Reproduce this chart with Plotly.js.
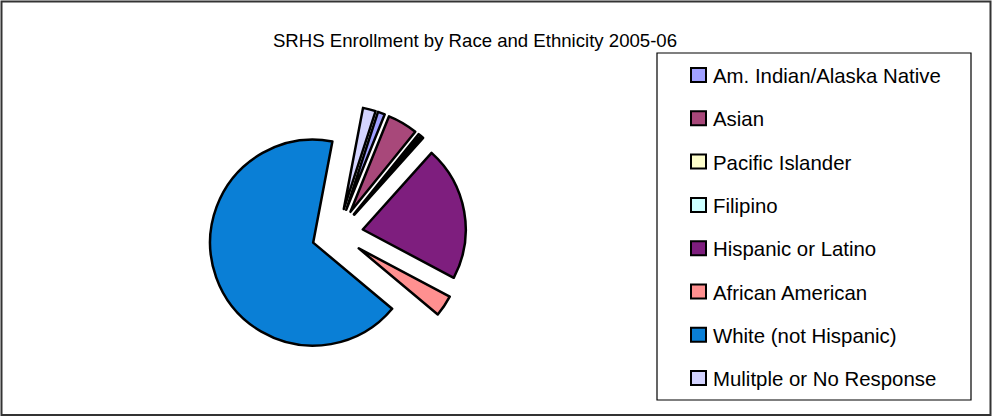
<!DOCTYPE html>
<html>
<head>
<meta charset="utf-8">
<script src="https://cdn.plot.ly/plotly-3.0.1.min.js"></script>
<style>html,body{margin:0;padding:0;background:#fff;}#chart{width:995px;height:417px;}</style>
</head>
<body>
<div id="chart"></div>
<script>
// Data
var categories = ["Am. Indian/Alaska Native", "Asian", "Pacific Islander", "Filipino",
                  "Hispanic or Latino", "African American", "White (not Hispanic)", "Mulitple or No Response"];
var percentages = [1.1, 4.7, 0.4, 0.4, 21.0, 3.3, 66.5, 2.0];
var sliceColors = ["#A0A0FF", "#A8487A", "#FFFFCC", "#CCFFFF", "#7E1E7E", "#FF9090", "#0A7FD6", "#D4D4FF"];
var chartTitle = "SRHS Enrollment by Race and Ethnicity 2005-06";

var W = 995, H = 417;
function px(x) { return x / W; }
function py(y) { return 1 - y / H; }

var trace = {
  type: "pie",
  labels: categories,
  values: percentages,
  sort: false,
  direction: "clockwise",
  rotation: 18,
  pull: categories.map(function () { return 0.25; }),
  marker: { colors: sliceColors, line: { color: "#000000", width: 2.5 } },
  textinfo: "none",
  hoverinfo: "label+percent",
  automargin: false,
  domain: { x: [px(208.65), px(466.15)], y: [py(362.75), py(105.25)] }
};

// Custom legend built from categories/colours
var shapes = [];
var annotations = [];
// outer chart border
shapes.push({ type: "rect", xref: "paper", yref: "paper",
  x0: px(1.5), x1: px(990.5), y0: py(415), y1: py(1.5),
  line: { color: "#333333", width: 2 }, fillcolor: "rgba(0,0,0,0)" });
// legend box
shapes.push({ type: "rect", xref: "paper", yref: "paper",
  x0: px(657), x1: px(971), y0: py(400), y1: py(53),
  line: { color: "#000000", width: 1.2 }, fillcolor: "#ffffff" });

var legTop = 75, legStep = 43.3;
categories.forEach(function (c, i) {
  var yc = legTop + i * legStep;
  shapes.push({ type: "rect", xref: "paper", yref: "paper",
    x0: px(691), x1: px(706), y0: py(yc + 7), y1: py(yc - 7),
    line: { color: "#000000", width: 2 }, fillcolor: sliceColors[i] });
  annotations.push({ xref: "paper", yref: "paper", x: px(711), y: py(yc + 1),
    xanchor: "left", yanchor: "middle", showarrow: false, text: c,
    font: { family: "Liberation Sans, Arial, sans-serif", size: 20.4, color: "#000000" } });
});

var layout = {
  width: W, height: H,
  margin: { l: 0, r: 0, t: 0, b: 0 },
  paper_bgcolor: "#ffffff",
  showlegend: false,
  title: { text: chartTitle, xref: "paper", yref: "container", x: px(475), xanchor: "center",
           y: py(40), yanchor: "middle",
           font: { family: "Liberation Sans, Arial, sans-serif", size: 18.6, color: "#000000" } },
  shapes: shapes,
  annotations: annotations
};

Plotly.newPlot("chart", [trace], layout, { displayModeBar: false, staticPlot: true });
</script>
</body>
</html>
